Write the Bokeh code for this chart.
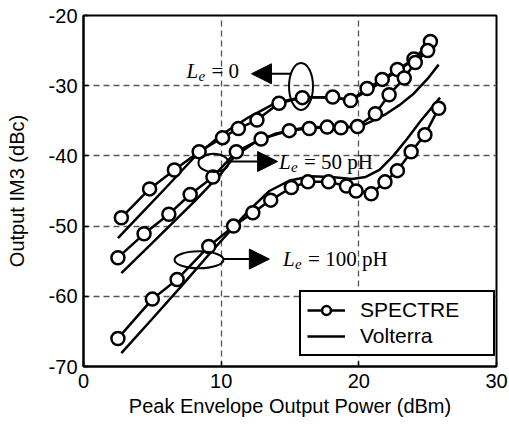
from bokeh.plotting import figure
from bokeh.models import (Legend, LegendItem, Label, Arrow, NormalHead,
                          FixedTicker, PrintfTickFormatter)
from bokeh.embed import file_html
from bokeh.resources import INLINE

# ---- data ----
le0_spectre_x = [2.75, 4.8, 6.6, 8.4, 10.1, 11.25, 12.6, 14.2, 15.9, 18.1, 19.4, 20.6, 21.7, 22.8, 24.0, 25.2]
le0_spectre_y = [-48.8, -44.7, -42.0, -39.4, -37.4, -36.1, -34.9, -32.5, -31.7, -31.6, -32.1, -30.4, -29.1, -27.7, -26.2, -23.7]
le0_volterra_x = [2.5, 4.0, 6.0, 8.0, 10.0, 12.0, 14.0, 16.0, 18.0, 19.5, 21.0, 22.5, 24.0, 25.3]
le0_volterra_y = [-51.7, -48.6, -44.5, -40.3, -37.0, -34.5, -32.4, -31.6, -31.7, -32.0, -30.3, -28.3, -26.3, -24.3]

le50_spectre_x = [2.5, 4.4, 6.2, 7.75, 9.4, 11.1, 12.9, 14.95, 16.4, 17.7, 18.7, 19.9, 21.2, 22.2, 23.3, 24.1, 25.0]
le50_spectre_y = [-54.5, -51.1, -48.3, -45.5, -43.0, -39.4, -37.6, -36.4, -36.1, -35.9, -36.0, -35.8, -34.0, -31.3, -28.9, -26.7, -25.0]
le50_volterra_x = [2.75, 5.0, 8.1, 10.0, 11.0, 12.5, 14.0, 16.0, 18.0, 20.0, 21.0, 22.0, 23.0, 24.0, 25.0, 25.8]
le50_volterra_y = [-56.7, -52.4, -46.4, -42.5, -40.0, -38.0, -36.8, -36.0, -35.8, -35.9, -35.0, -34.0, -32.7, -31.1, -29.0, -27.0]

le100_spectre_x = [2.5, 5.0, 6.8, 9.1, 10.9, 12.3, 13.6, 15.1, 16.3, 17.8, 19.1, 19.8, 20.9, 21.9, 22.8, 23.8, 24.8, 25.8]
le100_spectre_y = [-66.0, -60.4, -57.6, -52.9, -50.0, -48.1, -46.3, -44.5, -43.7, -43.7, -44.3, -45.0, -45.4, -43.7, -42.1, -39.4, -37.0, -33.2]
le100_volterra_x = [2.75, 5.0, 7.0, 9.0, 10.5, 12.0, 13.5, 15.0, 16.5, 18.0, 19.5, 20.5, 21.5, 22.5, 23.5, 24.5, 25.9]
le100_volterra_y = [-68.1, -63.2, -58.8, -54.3, -51.0, -47.8, -45.0, -43.5, -42.9, -43.0, -43.3, -43.0, -42.0, -40.0, -37.6, -35.0, -31.7]

x_ticks = [0, 10, 20, 30]
y_ticks = [-70, -60, -50, -40, -30, -20]

SANS = "Liberation Sans"
SERIF = "Liberation Serif"

p = figure(width=509, height=425, output_backend="svg", toolbar_location=None,
           x_range=(0, 30), y_range=(-70, -20),
           min_border_left=83, min_border_right=13, min_border_top=15, min_border_bottom=59)
p.background_fill_color = "white"
p.border_fill_color = "white"
p.outline_line_color = "black"
p.outline_line_width = 2

for ax in (p.xaxis[0], p.yaxis[0]):
    ax.axis_line_color = "black"
    ax.axis_line_width = 2
    ax.major_tick_in = 5
    ax.major_tick_out = 0
    ax.major_tick_line_width = 1.5
    ax.minor_tick_line_color = None
    ax.major_label_text_font = SANS
    ax.major_label_text_font_size = "20px"
    ax.major_label_text_color = "black"
    ax.axis_label_text_font = SANS
    ax.axis_label_text_font_size = "20px"
    ax.axis_label_text_font_style = "normal"
    ax.axis_label_text_color = "black"
    ax.formatter = PrintfTickFormatter(format="%d")

p.xaxis.ticker = FixedTicker(ticks=x_ticks)
p.yaxis.ticker = FixedTicker(ticks=y_ticks)
p.xaxis.major_label_standoff = 7
p.yaxis.major_label_standoff = 6
p.xaxis.axis_label = "Peak Envelope Output Power (dBm)"
p.yaxis.axis_label = "Output IM3 (dBc)"
p.xaxis.axis_label_standoff = 4
p.yaxis.axis_label_standoff = 18

for g in (p.xgrid[0], p.ygrid[0]):
    g.grid_line_color = "#555555"
    g.grid_line_dash = "6 4"
    g.grid_line_width = 1.3
p.xgrid.ticker = FixedTicker(ticks=x_ticks)
p.ygrid.ticker = FixedTicker(ticks=y_ticks)

LW = 2.5
spectre_renderers = []
volterra_renderers = []
for vx, vy in [(le0_volterra_x, le0_volterra_y), (le50_volterra_x, le50_volterra_y),
               (le100_volterra_x, le100_volterra_y)]:
    r = p.line(vx, vy, line_color="black", line_width=LW)
    volterra_renderers.append(r)

for sx, sy in [(le0_spectre_x, le0_spectre_y), (le50_spectre_x, le50_spectre_y),
               (le100_spectre_x, le100_spectre_y)]:
    rl = p.line(sx, sy, line_color="black", line_width=LW)
    rs = p.scatter(sx, sy, marker="circle", size=13, line_color="black",
                   line_width=2.5, fill_color="white")
    spectre_renderers.extend([rl, rs])

# ---- annotations: ellipses, arrows, labels ----
p.ellipse(x=[15.8, 9.44, 8.39], y=[-30.1, -41.0, -54.8],
          width=[1.74, 2.18, 3.56], height=[6.7, 2.6, 2.42],
          fill_color=None, line_color="black", line_width=2)

arrows = [
    (15.1, -28.3, 12.2, -28.3),
    (10.5, -40.8, 14.1, -40.8),
    (10.17, -54.7, 13.5, -54.7),
]
for x0, y0, x1, y1 in arrows:
    p.add_layout(Arrow(x_start=x0, y_start=y0, x_end=x1, y_end=y1,
                       line_color="black", line_width=2,
                       end=NormalHead(size=20, fill_color="black", line_color="black")))

def le_label(x, y, rest):
    p.add_layout(Label(x=x, y=y, text="L", text_font=SERIF, text_font_style="italic",
                       text_font_size="21px", text_baseline="middle", text_align="left",
                       text_color="black"))
    p.add_layout(Label(x=x, y=y, text="e", text_font=SERIF, text_font_style="italic",
                       text_font_size="15px", text_baseline="middle", text_align="left",
                       x_offset=12, y_offset=-5, text_color="black"))
    p.add_layout(Label(x=x, y=y, text=rest, text_font=SERIF, text_font_style="normal",
                       text_font_size="21px", text_baseline="middle", text_align="left",
                       x_offset=25, text_color="black"))

le_label(7.48, -27.9, "= 0")
le_label(14.2, -40.9, "= 50 pH")
le_label(14.5, -54.7, "= 100 pH")

legend = Legend(items=[LegendItem(label="SPECTRE", renderers=spectre_renderers[:2]),
                       LegendItem(label="Volterra", renderers=volterra_renderers[:1])],
                location=(216, 10), orientation="vertical")
legend.label_text_font = SANS
legend.label_text_font_size = "21px"
legend.label_text_color = "black"
legend.border_line_color = "black"
legend.border_line_alpha = 1.0
legend.border_line_width = 2
legend.background_fill_alpha = 1
legend.glyph_width = 38
legend.glyph_height = 22
legend.label_width = 127
legend.label_height = 22
legend.label_standoff = 15
legend.padding = 6
legend.spacing = 2
legend.margin = 0
p.add_layout(legend)

open("out.html", "w").write(file_html(p, INLINE))
